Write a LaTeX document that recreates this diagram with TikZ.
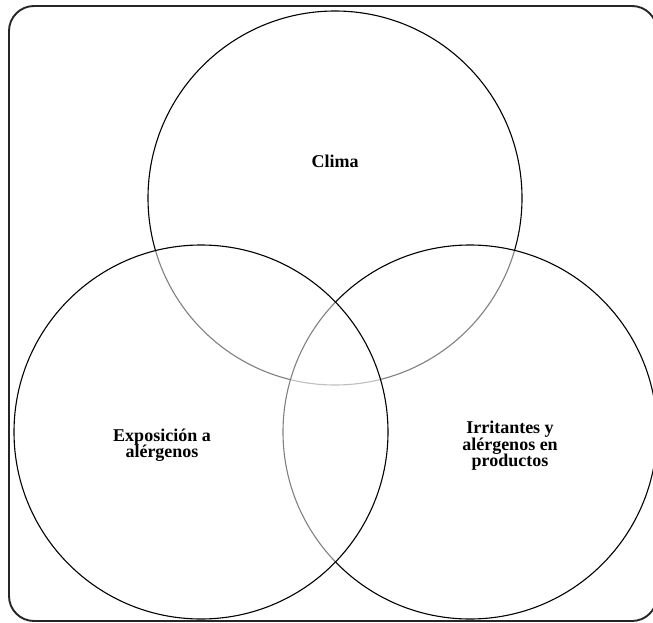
\documentclass[tikz,border=0pt]{standalone}
\usepackage{fontspec}
\setmainfont{Liberation Serif}
\begin{document}
\begin{tikzpicture}[x=1pt,y=-1pt,
  setcircle/.style={circle, draw=black, line width=1.1pt, inner sep=0pt,
    minimum size=374pt, fill=white, fill opacity=0.5},
  setlabel/.style={font=\fontsize{18}{16.5}\selectfont\bfseries, align=center,
    text=black},
  frame/.style={draw=black!85, line width=1.9pt, rounded corners=25pt}]
  \useasboundingbox (0,0) rectangle (653,623);
  \begin{scope}
    \clip (0,0) rectangle (653,623);
    % the three sets, later circles veil the outlines beneath them
    \node[setcircle, fill opacity=0] (clima) at (335,198) {};
    \node[setcircle] (irrit) at (470,432) {};
    \node[setcircle] (expo) at (201,432) {};
    % outer rounded frame
    \draw[frame] (9,6) rectangle (657,621);
  \end{scope}
  \node[setlabel] (tclima) at (335,161) {Clima};
  \node[setlabel] (texpo) at (162,445) {Exposición a\\alérgenos};
  \node[setlabel] (tirrit) at (510,446) {Irritantes y\\alérgenos en\\productos};
\end{tikzpicture}
\end{document}
